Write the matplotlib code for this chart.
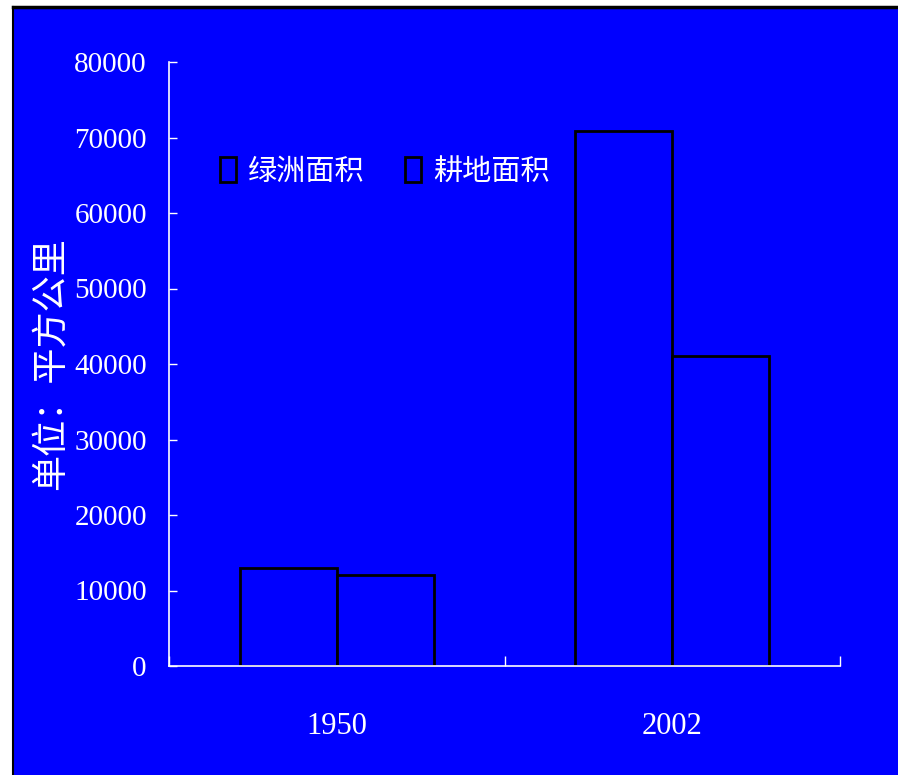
import matplotlib
matplotlib.use("Agg")
import matplotlib.pyplot as plt
from matplotlib.patches import Rectangle
import numpy as np

# data (square km)
years = ["1950", "2002"]
oasis_area = [13000, 70800]
farmland_area = [12000, 41000]
series_names = ["绿洲面积", "耕地面积"]
y_ticks = [0, 10000, 20000, 30000, 40000, 50000, 60000, 70000, 80000]

BLUE = "#0000ff"
num_font = "Liberation Serif"
cjk_font = ["Noto Sans CJK SC", "DejaVu Sans"]

fig = plt.figure(figsize=(8.98, 7.75), dpi=100)
fig.patch.set_facecolor("white")

# blue slide background with black top/left edge
W, H = 898, 775
fig.patches.append(Rectangle((13 / W, 0), 1 - 13 / W, 1 - 7 / H,
                             transform=fig.transFigure, facecolor=BLUE,
                             edgecolor="none", zorder=-5))
fig.lines.append(plt.Line2D([13 / W, 13 / W], [0, 1 - 7 / H], transform=fig.transFigure,
                            color="black", lw=1.5, zorder=-4))
fig.lines.append(plt.Line2D([13 / W, 1], [1 - 7 / H, 1 - 7 / H], transform=fig.transFigure,
                            color="black", lw=2.5, zorder=-4))

ax = fig.add_axes([169 / W, 1 - 666 / H, (840 - 169) / W, (666 - 62) / H])
ax.set_zorder(2)
ax.set_facecolor("none")

x = np.arange(len(years)) + 0.5
bw = 0.289
ax.bar(x - bw / 2, oasis_area, bw, facecolor=BLUE, edgecolor="black", lw=2, label=series_names[0])
ax.bar(x + bw / 2, farmland_area, bw, facecolor=BLUE, edgecolor="black", lw=2, label=series_names[1])

ax.set_xlim(0, 2)
ax.set_ylim(0, 80000)

for side in ["top", "right"]:
    ax.spines[side].set_visible(False)
for side in ["left", "bottom"]:
    ax.spines[side].set_color("white")
    ax.spines[side].set_linewidth(1.2)

ax.set_yticks(y_ticks)
ax.set_yticklabels([str(v) for v in y_ticks], family=num_font, fontsize=21, color="white")
ax.tick_params(axis="y", direction="in", length=6, width=1, color="white", pad=16)

ax.set_xticks([0, 1, 2])
ax.set_xticklabels([])
ax.tick_params(axis="x", which="major", direction="in", length=7, width=1, color="white")
ax.set_xticks(x, minor=True)
ax.set_xticklabels(years, minor=True, family=num_font, fontsize=22, color="white")
ax.tick_params(axis="x", which="minor", length=0, pad=33)

ax.text(-0.177, 0.5, "单位：平方公里", transform=ax.transAxes, rotation=90,
        ha="center", va="center", color="white", fontsize=26, family=cjk_font,
        fontweight="light")

leg = ax.legend(loc="center left", bbox_to_anchor=(0.037, 0.818), ncol=2, frameon=False,
                prop={"family": cjk_font, "size": 21, "weight": "light"},
                handlelength=0.55, handleheight=0.95,
                handletextpad=0.4, columnspacing=1.4)
for t in leg.get_texts():
    t.set_color("white")

fig.savefig("out.png", dpi=100, facecolor="white")
